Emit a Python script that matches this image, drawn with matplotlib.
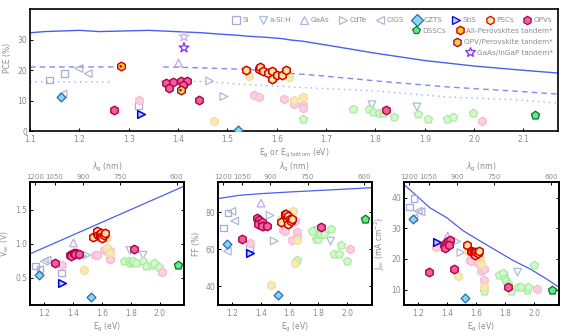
import matplotlib
matplotlib.use("Agg")
import matplotlib.pyplot as plt
import numpy as np
from matplotlib.lines import Line2D

# ---------------- data ----------------
si_eg = [1.139, 1.170, 1.320]
si_pce = [16.9, 18.9, 8.4]
si_voc = [0.67, 0.63, 0.57]
si_ff = [71.4, 79.5, 61.0]
si_jsc = [36.9, 39.7, 24.3]

asi_eg = [1.793, 1.884]
asi_pce = [8.7, 8.0]
asi_voc = [0.90, 0.83]
asi_ff = [70.0, 64.4]
asi_jsc = [13.8, 15.7]

gaas_eg = [1.401]
gaas_pce = [22.4]
gaas_voc = [1.01]
gaas_ff = [84.8]
gaas_jsc = [27.5]

cdte_eg = [1.464, 1.493]
cdte_pce = [16.5, 11.4]
cdte_voc = [0.82, 0.83]
cdte_ff = [78.2, 64.4]
cdte_jsc = [25.7, 22.1]

cigs_eg = [1.199, 1.218, 1.167]
cigs_pce = [20.6, 18.9, 12.2]
cigs_voc = [0.74, 0.76, 0.62]
cigs_ff = [80.4, 75.2, 58.9]
cigs_jsc = [35.6, 35.4, 33.4]

czts_eg = [1.163, 1.522]
czts_pce = [11.1, 0.5]
czts_voc = [0.54, 0.21]
czts_ff = [63.0, 35.2]
czts_jsc = [32.9, 7.4]

sbs_eg = [1.325]
sbs_pce = [5.7]
sbs_voc = [0.42]
sbs_ff = [58.0]
sbs_jsc = [25.7]

psc_eg = [1.537, 1.564, 1.566, 1.573, 1.582, 1.591, 1.590, 1.600, 1.610, 1.619]
psc_pce = [20.2, 20.5, 21.0, 19.7, 19.1, 19.9, 17.3, 18.4, 18.4, 20.0]
psc_voc = [1.10, 1.15, 1.18, 1.12, 1.13, 1.16, 1.10, 1.08, 1.12, 1.16]
psc_ff = [74.5, 78.5, 79.0, 79.0, 76.0, 78.0, 73.5, 76.0, 75.3, 76.0]
psc_jsc = [24.6, 22.7, 22.5, 22.3, 22.2, 22.0, 21.4, 22.4, 21.8, 22.7]

psc_lit_eg = [1.472, 1.543, 1.624, 1.634, 1.654]
psc_lit_pce = [3.3, 18.0, 17.8, 10.3, 11.1]
psc_lit_voc = [0.62, 1.10, 1.08, 0.94, 0.86]
psc_lit_ff = [40.6, 76.0, 80.4, 52.6, 65.2]
psc_lit_jsc = [14.3, 22.5, 20.0, 18.4, 11.0]

opv_eg = [1.271, 1.376, 1.389, 1.382, 1.406, 1.418, 1.410, 1.443, 1.821]
opv_pce = [7.1, 16.0, 16.2, 14.2, 16.6, 16.6, 15.1, 10.2, 7.1]
opv_voc = [0.71, 0.84, 0.85, 0.82, 0.86, 0.87, 0.85, 0.85, 0.92]
opv_ff = [65.3, 77.0, 75.9, 73.8, 74.5, 72.5, 72.3, 72.3, 71.9]
opv_jsc = [15.7, 24.7, 25.1, 23.5, 25.9, 26.3, 24.5, 16.8, 10.8]

opv_lit_eg = [1.321, 1.554, 1.564, 1.614, 1.634, 1.654, 1.654, 2.017]
opv_lit_pce = [10.4, 11.8, 11.4, 10.7, 9.0, 8.7, 7.8, 3.4]
opv_lit_voc = [0.69, 0.83, 0.84, 0.90, 0.89, 0.77, 0.89, 0.59]
opv_lit_ff = [63.4, 70.5, 70.0, 65.2, 75.2, 69.2, 66.0, 60.3]
opv_lit_jsc = [24.0, 19.7, 19.4, 18.7, 16.2, 16.8, 13.0, 10.3]

dssc_eg = [2.124]
dssc_pce = [5.2]
dssc_voc = [0.68]
dssc_ff = [76.5]
dssc_jsc = [10.0]

dssc_lit_eg = [1.654, 1.755, 1.786, 1.796, 1.807, 1.816, 1.837, 1.886, 1.907, 1.946, 1.957, 1.997]
dssc_lit_pce = [4.1, 7.4, 7.4, 6.3, 6.0, 5.9, 4.7, 5.7, 4.1, 4.1, 4.6, 6.0]
dssc_lit_voc = [0.78, 0.74, 0.75, 0.72, 0.73, 0.74, 0.72, 0.74, 0.67, 0.69, 0.72, 0.66]
dssc_lit_ff = [54.0, 69.6, 65.7, 65.7, 68.4, 68.4, 68.0, 71.1, 57.6, 57.3, 62.4, 53.5]
dssc_lit_jsc = [9.7, 14.9, 15.3, 13.5, 12.8, 11.8, 9.7, 10.8, 10.8, 10.0, 10.8, 18.2]

allpvk_eg = [1.284]
allpvk_pce = [21.3]
opvpvk_eg = [1.405]
opvpvk_pce = [13.5]
iii_v_eg = [1.412]
iii_v_pce = [27.4]
iii_v_lit_eg = [1.412]
iii_v_lit_pce = [31.0]

# limit curves
sq_eg = [1.10, 1.13, 1.20, 1.24, 1.34, 1.45, 1.48, 1.52, 1.54, 1.58, 1.61, 1.63, 1.65,
         1.70, 1.80, 1.90, 2.00, 2.10, 2.17]
sq_pce = [32.3, 32.7, 33.1, 32.7, 33.1, 32.3, 31.9, 31.5, 31.2, 30.8, 30.4, 29.9, 29.6,
          28.3, 25.6, 23.2, 21.4, 20.0, 19.1]
dash_eg = [1.10, 1.275, np.nan, 1.37, 1.45, 1.55, 1.60, 1.67, 1.81, 1.95, 2.09, 2.17]
dash_pce = [21.1, 21.1, np.nan, 21.1, 20.8, 20.2, 19.3, 18.5, 16.4, 14.5, 13.1, 12.2]
dot_eg = [1.10, 1.265, np.nan, 1.365, 1.44, 1.50, 1.52, 1.60, 1.81, 1.95, 2.09, 2.17]
dot_pce = [16.2, 16.2, np.nan, 16.4, 16.4, 15.8, 15.5, 14.8, 13.1, 11.2, 10.3, 9.2]
sqv_eg = [1.10, 1.60, 2.17]
sqv_voc = [0.85, 1.315, 1.845]
sqff_eg = [1.10, 1.25, 1.40, 1.60, 1.80, 2.00, 2.17]
sqff_ff = [87.2, 89.0, 89.9, 90.8, 91.6, 92.4, 93.1]
sqj_eg = [1.10, 1.279, 1.394, 1.509, 1.624, 1.739, 1.854, 1.969, 2.084, 2.17]
sqj_jsc = [44.3, 36.7, 33.5, 29.2, 25.9, 22.7, 19.5, 16.8, 13.5, 10.8]

lam_labels = ["1200", "1050", "900", "750", "600"]
lam_pos = [1.137, 1.270, 1.466, 1.724, 2.117]

# ---------------- styles ----------------
GREY = "#8c8c8c"
LINE = "#4a5ff0"
styles = {
    "si": dict(marker="s", fc="none", ec="#a7aadd", s=22),
    "asi": dict(marker="v", fc="none", ec="#a9bed6", s=30),
    "gaas": dict(marker="^", fc="none", ec="#c2a9e6", s=30),
    "cdte": dict(marker=">", fc="none", ec="#a9bcd3", s=30),
    "cigs": dict(marker="<", fc="none", ec="#b3b3da", s=30),
    "czts": dict(marker="D", fc="#8fd3f5", ec="#1f6fb8", s=20),
    "sbs": dict(marker=">", fc="#b8d0ff", ec="#0000dd", s=30),
    "psc": dict(marker="h", fc="#f8e7a0", ec="#d40000", s=38),
    "psc_lit": dict(marker="h", fc="#f9e9b3", ec="#f3dc9c", s=38),
    "opv": dict(marker="h", fc="#f0609c", ec="#b0004a", s=38),
    "opv_lit": dict(marker="h", fc="#fcd0e2", ec="#f8b8d2", s=38),
    "dssc": dict(marker="p", fc="#5ee89a", ec="#108020", s=38),
    "dssc_lit": dict(marker="p", fc="#d6f8ce", ec="#a8eca0", s=38),
}

plt.rcParams["font.family"] = ["DejaVu Sans"]
fig = plt.figure(figsize=(5.74, 3.36), dpi=100)

ax_top = fig.add_axes([0.0523, 0.6092, 0.9198, 0.3631])
ax_v = fig.add_axes([0.0523, 0.0923, 0.2688, 0.3651])
ax_f = fig.add_axes([0.3793, 0.0923, 0.2683, 0.3651])
ax_j = fig.add_axes([0.7038, 0.0923, 0.2700, 0.3651])


def sc(ax, key, x, y, lw=0.9, z=3):
    st = styles[key]
    ax.scatter(x, y, marker=st["marker"], s=st["s"], facecolors=st["fc"],
               edgecolors=st["ec"], linewidths=lw, zorder=z)


def style_axes(ax, right=True):
    for sp in ax.spines.values():
        sp.set_linewidth(1.2)
        sp.set_color("black")
    ax.tick_params(direction="in", length=2.5, width=0.7, labelsize=5.5,
                   labelcolor=GREY, pad=2, right=right)
    ax.tick_params(axis="x", pad=3)


# ---- top panel: PCE ----
ax = ax_top
ax.plot(sq_eg, sq_pce, color=LINE, lw=1.0, zorder=2)
ax.plot(dash_eg, dash_pce, color="#7d8cf3", lw=1.0, ls=(0, (4, 3)), zorder=2)
ax.plot(dot_eg, dot_pce, color="#a3adf6", lw=1.0, ls=(0, (1, 3)), zorder=2)

sc(ax, "si", si_eg, si_pce)
sc(ax, "asi", asi_eg, asi_pce)
sc(ax, "gaas", gaas_eg, gaas_pce)
sc(ax, "cdte", cdte_eg, cdte_pce)
sc(ax, "cigs", cigs_eg, cigs_pce)
sc(ax, "dssc_lit", dssc_lit_eg, dssc_lit_pce)
sc(ax, "opv_lit", opv_lit_eg, opv_lit_pce)
sc(ax, "psc_lit", psc_lit_eg, psc_lit_pce)
sc(ax, "czts", czts_eg, czts_pce, z=4)
sc(ax, "sbs", sbs_eg, sbs_pce, lw=1.1, z=4)
sc(ax, "psc", psc_eg, psc_pce, lw=1.1, z=5)
sc(ax, "opv", opv_eg, opv_pce, lw=1.0, z=5)
sc(ax, "dssc", dssc_eg, dssc_pce, lw=1.0, z=5)
# tandems
ax.scatter(allpvk_eg, allpvk_pce, marker="h", s=40, facecolors="#f8c830",
           edgecolors="#d40000", linewidths=1.0, zorder=6)
ax.scatter(allpvk_eg, allpvk_pce, marker="o", s=3, facecolors="#a00020",
           edgecolors="none", zorder=7)
ax.scatter(opvpvk_eg, opvpvk_pce, marker="h", s=40, facecolors="#f2d23c",
           edgecolors="#9a1040", linewidths=1.0, zorder=6)
ax.scatter(opvpvk_eg, opvpvk_pce, marker="o", s=3, facecolors="#7a1030",
           edgecolors="none", zorder=7)
ax.scatter(iii_v_lit_eg, iii_v_lit_pce, marker="*", s=55, facecolors="none",
           edgecolors="#cdb0f2", linewidths=0.9, zorder=6)
ax.scatter(iii_v_eg, iii_v_pce, marker="*", s=55, facecolors="none",
           edgecolors="#8a40e8", linewidths=1.0, zorder=6)

ax.set_xlim(1.1, 2.17)
ax.set_ylim(0, 40)
ax.set_xticks([1.1, 1.2, 1.3, 1.4, 1.5, 1.6, 1.7, 1.8, 1.9, 2.0, 2.1])
ax.set_yticks([0, 10, 20, 30])
style_axes(ax, right=False)
ax.set_xlabel(r"E$_{\rm g}$ or E$_{\rm g\ bottom}$ (eV)", fontsize=5.5,
              color=GREY, labelpad=2)
ax.set_ylabel("PCE (%)", fontsize=5.5, color=GREY, labelpad=3)
ax.yaxis.set_label_coords(-0.034, 0.6)


def H(key):
    st = styles[key]
    return Line2D([], [], ls="none", marker=st["marker"], markersize=6,
                  markerfacecolor=st["fc"], markeredgecolor=st["ec"],
                  markeredgewidth=0.9)


row1 = [H("si"), H("asi"), H("gaas"), H("cdte"), H("cigs"), H("czts"),
        H("sbs"), H("psc"), H("opv")]
row1_l = ["Si", "a-Si:H", "GaAs", "CdTe", "CIGS", "CZTS", "SbS", "PSCs", "OPVs"]
h_all = Line2D([], [], ls="none", marker="h", markersize=6, markerfacecolor="#f8c830",
               markeredgecolor="#d40000", markeredgewidth=1.0)
h_opvp = Line2D([], [], ls="none", marker="h", markersize=6, markerfacecolor="#f2d23c",
                markeredgecolor="#9a1040", markeredgewidth=1.0)
h_star = Line2D([], [], ls="none", marker="*", markersize=7, markerfacecolor="none",
                markeredgecolor="#8a40e8", markeredgewidth=1.0)

common = dict(frameon=False, fontsize=5.2, labelcolor=GREY, handletextpad=0.4,
              borderpad=0, borderaxespad=0, handlelength=1.0, loc="center right")
lg1 = ax.legend(row1, row1_l, ncol=9, columnspacing=1.35,
                bbox_to_anchor=(0.99, 0.912), **common)
ax.add_artist(lg1)
lg2 = ax.legend([H("dssc"), h_all], ["DSSCs", "All-Perovskites tandem*"], ncol=2,
                columnspacing=1.35, bbox_to_anchor=(0.99, 0.825), **common)
ax.add_artist(lg2)
lg3 = ax.legend([h_opvp], ["OPV/Perovskite tandem*"], bbox_to_anchor=(0.99, 0.732), **common)
ax.add_artist(lg3)
ax.legend([h_star], ["GaAs/InGaP tandem*"], bbox_to_anchor=(0.99, 0.644), **common)


# ---- bottom panels ----
def bottom(ax, lim_x, lim_y, vals, ylim, yticks, ylabel):
    ax.plot(lim_x, lim_y, color=LINE, lw=0.9, zorder=2)
    sc(ax, "si", si_eg, vals["si"])
    sc(ax, "asi", asi_eg, vals["asi"])
    sc(ax, "gaas", gaas_eg, vals["gaas"])
    sc(ax, "cdte", cdte_eg, vals["cdte"])
    sc(ax, "cigs", cigs_eg, vals["cigs"])
    sc(ax, "dssc_lit", dssc_lit_eg, vals["dssc_lit"])
    sc(ax, "opv_lit", opv_lit_eg, vals["opv_lit"])
    sc(ax, "psc_lit", psc_lit_eg, vals["psc_lit"])
    sc(ax, "czts", czts_eg, vals["czts"], z=4)
    sc(ax, "sbs", sbs_eg, vals["sbs"], lw=1.1, z=4)
    sc(ax, "psc", psc_eg, vals["psc"], lw=1.1, z=5)
    sc(ax, "opv", opv_eg, vals["opv"], lw=1.0, z=5)
    sc(ax, "dssc", dssc_eg, vals["dssc"], lw=1.0, z=5)
    ax.set_xlim(1.1, 2.17)
    ax.set_ylim(*ylim)
    ax.set_xticks([1.2, 1.4, 1.6, 1.8, 2.0])
    ax.set_yticks(yticks)
    style_axes(ax, right=True)
    ax.set_xlabel(r"E$_{\rm g}$ (eV)", fontsize=5.5, color=GREY, labelpad=2)
    ax.set_ylabel(ylabel, fontsize=5.5, color=GREY, labelpad=3)
    tw = ax.twiny()
    tw.set_xlim(ax.get_xlim())
    tw.set_xticks(lam_pos)
    tw.set_xticklabels(lam_labels)
    tw.tick_params(direction="in", length=2.5, width=0.7, labelsize=5.0,
                   labelcolor=GREY, pad=2)
    for sp in tw.spines.values():
        sp.set_linewidth(1.2)
    tw.set_xlabel(r"$\lambda_{\rm g}$ (nm)", fontsize=5.5, color=GREY, labelpad=3)


bottom(ax_v, sqv_eg, sqv_voc,
       dict(si=si_voc, asi=asi_voc, gaas=gaas_voc, cdte=cdte_voc, cigs=cigs_voc,
            czts=czts_voc, sbs=sbs_voc, psc=psc_voc, psc_lit=psc_lit_voc,
            opv=opv_voc, opv_lit=opv_lit_voc, dssc=dssc_voc, dssc_lit=dssc_lit_voc),
       (0.1, 1.9), [0.5, 1.0, 1.5], r"V$_{\rm oc}$ (V)")
bottom(ax_f, sqff_eg, sqff_ff,
       dict(si=si_ff, asi=asi_ff, gaas=gaas_ff, cdte=cdte_ff, cigs=cigs_ff,
            czts=czts_ff, sbs=sbs_ff, psc=psc_ff, psc_lit=psc_lit_ff,
            opv=opv_ff, opv_lit=opv_lit_ff, dssc=dssc_ff, dssc_lit=dssc_lit_ff),
       (30, 96), [40, 60, 80], "FF (%)")
bottom(ax_j, sqj_eg, sqj_jsc,
       dict(si=si_jsc, asi=asi_jsc, gaas=gaas_jsc, cdte=cdte_jsc, cigs=cigs_jsc,
            czts=czts_jsc, sbs=sbs_jsc, psc=psc_jsc, psc_lit=psc_lit_jsc,
            opv=opv_jsc, opv_lit=opv_lit_jsc, dssc=dssc_jsc, dssc_lit=dssc_lit_jsc),
       (5, 45), [10, 20, 30, 40], r"J$_{\rm sc}$ (mA cm$^{-2}$)")

fig.savefig("out.png", dpi=100)
